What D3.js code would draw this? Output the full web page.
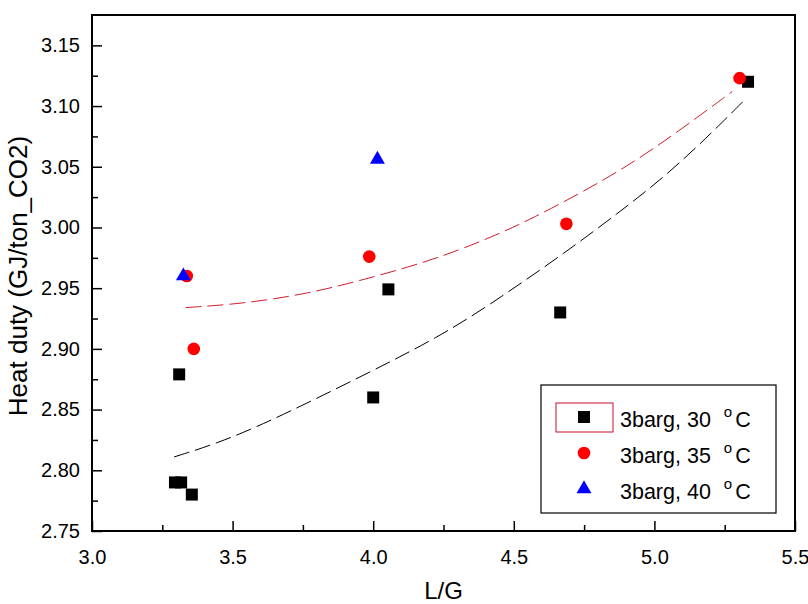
<!DOCTYPE html>
<html>
<head>
<meta charset="utf-8">
<script src="https://cdn.jsdelivr.net/npm/d3@7"></script>
<style>
  html, body { margin: 0; padding: 0; background: #fff; }
  svg { display: block; }
  text { font-family: "Liberation Sans", Arial, sans-serif; fill: #000; }
</style>
</head>
<body>
<svg id="chart" width="808" height="604"></svg>
<script>
// ---- data ----
const lg30 = [3.295, 3.317, 3.355, 3.31, 4.0, 4.054, 4.665, 5.333];
const hd30 = [2.79, 2.79, 2.78, 2.879, 2.86, 2.949, 2.93, 3.12];
const lg35 = [3.337, 3.362, 3.986, 4.687, 5.303];
const hd35 = [2.96, 2.90, 2.976, 3.003, 3.123];
const lg40 = [3.325, 4.015];
const hd40 = [2.96, 3.056];
// fitted curves
const fit30x = [3.292, 3.443, 3.621, 3.929, 4.238, 4.451, 4.687, 4.866, 5.044, 5.222, 5.316];
const fit30y = [2.811, 2.822, 2.839, 2.874, 2.910, 2.942, 2.980, 3.011, 3.043, 3.082, 3.104];
const fit35x = [3.333, 3.526, 3.763, 4.0, 4.238, 4.451, 4.570, 4.735, 4.901, 5.067, 5.277];
const fit35y = [2.934, 2.937, 2.945, 2.959, 2.975, 2.995, 3.008, 3.028, 3.050, 3.076, 3.112];
const xTicks = [3.0, 3.5, 4.0, 4.5, 5.0, 5.5];
const yTicks = [2.75, 2.80, 2.85, 2.90, 2.95, 3.00, 3.05, 3.10, 3.15];
const seriesNames = ["3barg, 30", "3barg, 35", "3barg, 40"];
const xTitle = "L/G";
const yTitle = "Heat duty (GJ/ton_CO2)";

// ---- layout ----
const L = 92, R = 795, T = 15, B = 531;
const svg = d3.select("#chart");
const x = d3.scaleLinear().domain([3.0, 5.5]).range([L, R]);
const y = d3.scaleLinear().domain([2.75, 3.175]).range([B, T]);

const xMinor = d3.range(3.25, 5.5, 0.5);
const yMinor = d3.range(2.775, 3.175, 0.05);

function styleAxis(g) {
  g.select(".domain").remove();
  g.selectAll(".tick line").attr("stroke", "#000").attr("stroke-width", 1.5);
  g.selectAll(".tick text").attr("font-size", 20).attr("font-family", "Liberation Sans, Arial, sans-serif");
}

const gx = svg.append("g").attr("transform", `translate(0,${B})`);
gx.call(d3.axisBottom(x).tickValues(xTicks).tickFormat(d3.format(".1f")).tickSizeInner(-10).tickSizeOuter(0).tickPadding(19));
styleAxis(gx);
const gxm = svg.append("g").attr("transform", `translate(0,${B})`);
gxm.call(d3.axisBottom(x).tickValues(xMinor).tickFormat("").tickSizeInner(-6).tickSizeOuter(0));
styleAxis(gxm);

const gy = svg.append("g").attr("transform", `translate(${L},0)`);
gy.call(d3.axisLeft(y).tickValues(yTicks).tickFormat(d3.format(".2f")).tickSizeInner(-10).tickSizeOuter(0).tickPadding(12));
styleAxis(gy);
const gym = svg.append("g").attr("transform", `translate(${L},0)`);
gym.call(d3.axisLeft(y).tickValues(yMinor).tickFormat("").tickSizeInner(-6).tickSizeOuter(0));
styleAxis(gym);

// frame
svg.append("rect").attr("x", L).attr("y", T).attr("width", R - L).attr("height", B - T)
  .attr("fill", "none").attr("stroke", "#000").attr("stroke-width", 2);

// fit curves
const line = d3.line().x(d => x(d[0])).y(d => y(d[1])).curve(d3.curveBasis);
svg.append("path").datum(fit30x.map((v, i) => [v, fit30y[i]]))
  .attr("d", line).attr("fill", "none").attr("stroke", "#000").attr("stroke-width", 1)
  .attr("stroke-dasharray", "16,6");
svg.append("path").datum(fit35x.map((v, i) => [v, fit35y[i]]))
  .attr("d", line).attr("fill", "none").attr("stroke", "#d01c2c").attr("stroke-width", 1)
  .attr("stroke-dasharray", "16,6");

// markers
const sq = d3.symbol().type(d3.symbolSquare).size(144);
const ci = d3.symbol().type(d3.symbolCircle).size(125);
const tr = d3.symbol().type(d3.symbolTriangle).size(97);
svg.append("g").selectAll("path").data(lg30.map((v, i) => [v, hd30[i]])).join("path")
  .attr("d", sq()).attr("transform", d => `translate(${x(d[0])},${y(d[1])})`).attr("fill", "#000");
svg.append("g").selectAll("path").data(lg35.map((v, i) => [v, hd35[i]])).join("path")
  .attr("d", ci()).attr("transform", d => `translate(${x(d[0])},${y(d[1])})`).attr("fill", "#ff0000");
svg.append("g").selectAll("path").data(lg40.map((v, i) => [v, hd40[i]])).join("path")
  .attr("d", tr()).attr("transform", d => `translate(${x(d[0])},${y(d[1])})`).attr("fill", "#0000ff");

// axis titles
svg.append("text").attr("x", (L + R) / 2).attr("y", 599).attr("text-anchor", "middle")
  .attr("font-size", 24).text(xTitle);
svg.append("text").attr("transform", `translate(27,${(T + B) / 2 + 3}) rotate(-90)`)
  .attr("text-anchor", "middle").attr("font-size", 26).text(yTitle);

// legend
const lg = svg.append("g");
lg.append("rect").attr("x", 541).attr("y", 385).attr("width", 235).attr("height", 128)
  .attr("fill", "#fff").attr("stroke", "#000").attr("stroke-width", 1.2);
lg.append("rect").attr("x", 556).attr("y", 403).attr("width", 57).attr("height", 29)
  .attr("fill", "none").attr("stroke", "#c8102e").attr("stroke-width", 1);
const symbols = [sq, ci, tr];
const colors = ["#000", "#ff0000", "#0000ff"];
const rowY = [417, 453, 489];
seriesNames.forEach((name, i) => {
  lg.append("path").attr("d", symbols[i]()).attr("transform", `translate(584,${rowY[i]})`).attr("fill", colors[i]);
  const t = lg.append("text").attr("x", 620).attr("y", rowY[i] + 10).attr("font-size", 21.5);
  t.append("tspan").text(name);
  t.append("tspan").attr("dx", 13).attr("dy", -10).attr("font-size", 15).text("o");
  t.append("tspan").attr("dx", 3).attr("dy", 10).text("C");
});
</script>
</body>
</html>
